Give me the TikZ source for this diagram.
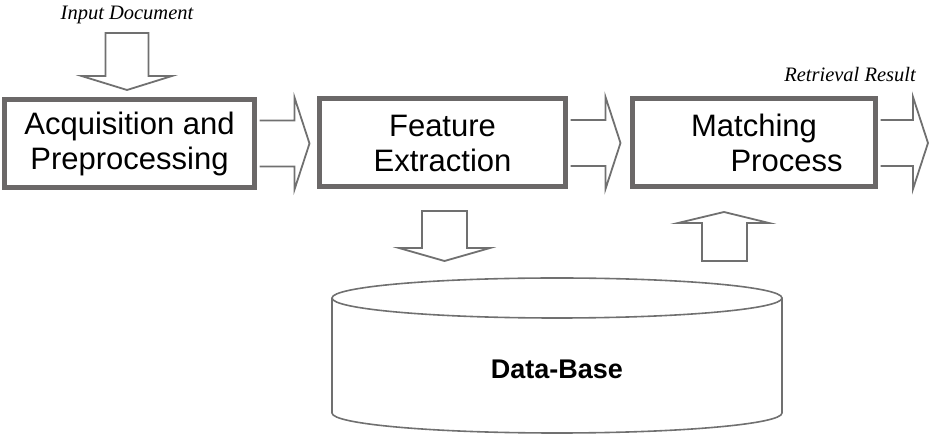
\documentclass[tikz,border=0pt]{standalone}
\usepackage{fontspec}
\setmainfont{Liberation Sans}
\newfontfamily\labelfont{Liberation Serif}
\usetikzlibrary{calc}
\definecolor{boxgray}{HTML}{6B6868}
\definecolor{arrgray}{HTML}{707070}
\tikzset{
  procbox/.style={draw=boxgray, line width=5pt, minimum height=88pt, align=center,
    font=\fontsize{31}{35}\selectfont, inner sep=0pt},
  blockarrow/.style={draw=arrgray, line width=1.8pt, line join=miter},
  smalllabel/.style={font=\labelfont\itshape\fontsize{20.5}{22}\selectfont, inner sep=0pt},
  dbshape/.style={draw=arrgray, line width=1.6pt}
}
\begin{document}
\begin{tikzpicture}[x=1pt,y=-1pt]
\useasboundingbox (0,0) rectangle (930,435);
% process boxes
\node[procbox, minimum width=250pt] (acq) at (129.5,143.5) {Acquisition and\\Preprocessing};
\node[procbox, minimum width=246pt] (fe) at (442.5,143) {Feature\\Extraction};
\node[procbox, minimum width=243pt] (mp) at (754,143) {Matching\\\hspace*{2.1em}Process};
% labels
\node[smalllabel] (inlbl) at (127,15) {Input Document};
\node[smalllabel] (outlbl) at (850,75) {Retrieval Result};
\coordinate (inp) at (127,33);
\coordinate (outp) at (928,143.5);
% database
\coordinate (dbc) at (557,298);
\draw[dbshape] (332,298) -- (332,413) arc[start angle=180, end angle=0, x radius=225, y radius=20] -- (782,298);
\draw[dbshape] (dbc) ellipse[x radius=225, y radius=20];
\node[font=\bfseries\fontsize{27}{30}\selectfont] (db) at (557,369) {Data-Base};
% horizontal block arrows
\draw[blockarrow] let \p1=(acq.east), \p2=(fe.west) in
  (\x1+2.5pt,\y1+23pt) -- (\x2-22.5pt,\y1+23pt) -- (\x2-22.5pt,\y1+46pt) -- (\x2-7.5pt,\y1)
  -- (\x2-22.5pt,\y1-46pt) -- (\x2-22.5pt,\y1-23pt) -- (\x1+2.5pt,\y1-23pt);
\draw[blockarrow] let \p1=(fe.east), \p2=(mp.west) in
  (\x1+2.5pt,\y1+23pt) -- (\x2-24.5pt,\y1+23pt) -- (\x2-24.5pt,\y1+46pt) -- (\x2-9.5pt,\y1)
  -- (\x2-24.5pt,\y1-46pt) -- (\x2-24.5pt,\y1-23pt) -- (\x1+2.5pt,\y1-23pt);
\draw[blockarrow] let \p1=(mp.east), \p2=(outp) in
  (\x1+2.5pt,\y1+23pt) -- (\x2-15pt,\y1+23pt) -- (\x2-15pt,\y1+46pt) -- (\x2,\y1)
  -- (\x2-15pt,\y1-46pt) -- (\x2-15pt,\y1-23pt) -- (\x1+2.5pt,\y1-23pt);
% input arrow (down into acq)
\draw[blockarrow] (inp) ++(-21.5,0) -- ++(0,43) -- ++(-24,0) -- (127,90) -- (172,76) -- (148.5,76) -- (148.5,33) -- cycle;
% feature -> db (down)
\draw[blockarrow] let \p1=(fe.south) in
  (\x1-20.5pt,-211pt) -- (\x1-20.5pt,-248pt) -- (\x1-43.5pt,-248pt) -- (\x1+2pt,-261pt)
  -- (\x1+47.5pt,-248pt) -- (\x1+24.5pt,-248pt) -- (\x1+24.5pt,-211pt) -- cycle;
% db -> matching (up)
\draw[blockarrow] (702,261) -- (702,223) -- (678,223) -- (724,212) -- (769,223) -- (747,223) -- (747,261) -- cycle;
\end{tikzpicture}
\end{document}
